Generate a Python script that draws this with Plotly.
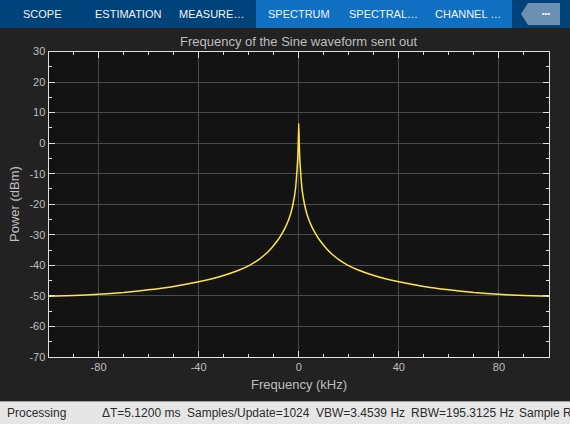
import plotly.graph_objects as go

W = 570
H = 424

# values
freq_khz = [-100, -90, -80, -70, -60, -50, -40, -32, -27, -24, -19.5, -16, -13.7, -11.3, -8.4, -7, -5.5, -4.2, -3.2, -2.3,
            -1.3, -0.8, -0.4, -0.2, 0, 0.2, 0.4, 0.8, 1.3, 2.3, 3.2, 4.2, 5.5, 7, 8.4, 11.3, 13.7, 16, 19.5, 24, 27, 32,
            40, 50, 60, 70, 80, 90, 100]
power_dbm = [-50.1, -49.9, -49.5, -48.9, -48.0, -46.9, -45.4, -43.8, -42.5, -41.6, -39.9, -38.1, -36.6, -34.7, -31.8, -30, -27.8, -25.4, -23, -20,
             -15, -10, -5, 0, 6.5, 0, -5, -10, -15, -20, -23, -25.4, -27.8, -30, -31.8, -34.7, -36.6, -38.1, -39.9, -41.6, -42.5, -43.8,
             -45.4, -46.9, -48.0, -48.9, -49.5, -49.9, -50.1]

x_ticks = [-80, -40, 0, 40, 80]
x_tick_labels = ["-80", "-40", "0", "40", "80"]
y_ticks = [30, 20, 10, 0, -10, -20, -30, -40, -50, -60, -70]
y_tick_labels = ["30", "20", "10", "0", "-10", "-20", "-30", "-40", "-50", "-60", "-70"]

tab_labels = ["SCOPE", "ESTIMATION", "MEASURE…", "SPECTRUM", "SPECTRAL…", "CHANNEL …"]
tab_centers = [42.5, 128, 211, 299, 383.5, 467.5]

status_labels = ["Processing", "ΔT=5.1200 ms", "Samples/Update=1024", "VBW=3.4539 Hz", "RBW=195.3125 Hz", "Sample R"]
status_lefts = [5, 100, 185, 314, 409, 517]

PLOT_L, PLOT_R, PLOT_T, PLOT_B = 48.5, 549, 51.5, 357
FONT = "Liberation Sans"


def px(x):
    return x / W


def py(y):
    return 1 - y / H


def box(x0, y0, x1, y1, color):
    return dict(type="rect", xref="paper", yref="paper", layer="below", line_width=0, fillcolor=color,
                x0=px(x0), x1=px(x1), y0=py(y0), y1=py(y1))


def label(x, y, text, size, color, anchor="center", angle=0):
    return dict(xref="paper", yref="paper", x=px(x), y=py(y), text=text, showarrow=False, textangle=angle,
                xanchor=anchor, yanchor="middle", font=dict(family=FONT, size=size, color=color))


fig = go.Figure(go.Scatter(x=freq_khz, y=power_dbm, mode="lines", hoverinfo="skip",
                           line=dict(color="#ffe34f", width=1.5, shape="spline", smoothing=0.5)))

shapes = [
    box(0, 0, 570, 28, "#00437b"),
    box(256, 0, 512, 28, "#1070c2"),
    box(0, 401, 570, 424, "#e6e6e6"),
    box(0, 401, 570, 402, "#a0a0a0"),
    dict(type="path", xref="paper", yref="paper", layer="below", line_width=0, fillcolor="#6b90b2",
         path="M %f %f L %f %f L %f %f L %f %f L %f %f Z" % (px(521), py(14), px(528), py(3), px(560), py(3),
                                                             px(560), py(25), px(528), py(25))),
]

annotations = [label(c, 14, t, 11, "#f0f4f8") for t, c in zip(tab_labels, tab_centers)]
annotations.append(label(546, 13, "•••", 8, "#ffffff"))
annotations.append(label(298.5, 41, "Frequency of the Sine waveform sent out", 13, "#bfbfbf"))
annotations.append(label(298.5, 384, "Frequency (kHz)", 13, "#bfbfbf"))
annotations.append(label(14, 204, "Power (dBm)", 13, "#bfbfbf", angle=-90))
annotations += [label(x, 413, t, 12, "#2b2b2b", anchor="left") for t, x in zip(status_labels, status_lefts)]

fig.update_layout(
    width=W, height=H, margin=dict(l=0, r=0, t=0, b=0, autoexpand=False), showlegend=False,
    paper_bgcolor="#222222", plot_bgcolor="#131313",
    shapes=shapes, annotations=annotations,
    font=dict(family=FONT, size=11, color="#bfbfbf"),
)
fig.update_xaxes(
    domain=[px(PLOT_L), px(PLOT_R)], range=[-100, 100], tickvals=x_ticks, ticktext=x_tick_labels, ticks="inside", ticklen=6,
    tickcolor="#e0e0e0", gridcolor="#4a4a4a", gridwidth=1, zeroline=False, showline=True, linecolor="#e0e0e0",
    linewidth=1, mirror="ticks", tickfont=dict(size=11, color="#bfbfbf"),
    minor=dict(dtick=10, tick0=0, ticks="inside", ticklen=3, tickcolor="#e0e0e0", showgrid=False),
)
fig.update_yaxes(
    domain=[py(PLOT_B), py(PLOT_T)], range=[-70, 30], tickvals=y_ticks, ticktext=y_tick_labels, ticks="inside", ticklen=6,
    tickcolor="#e0e0e0", gridcolor="#4a4a4a", gridwidth=1, zeroline=False, showline=True, linecolor="#e0e0e0",
    linewidth=1, mirror="ticks", tickfont=dict(size=11, color="#bfbfbf"),
    minor=dict(dtick=5, tick0=0, ticks="inside", ticklen=3, tickcolor="#e0e0e0", showgrid=False),
)

fig.write_html("out.html", config=dict(displayModeBar=False), post_script="document.body.style.margin='0';")
